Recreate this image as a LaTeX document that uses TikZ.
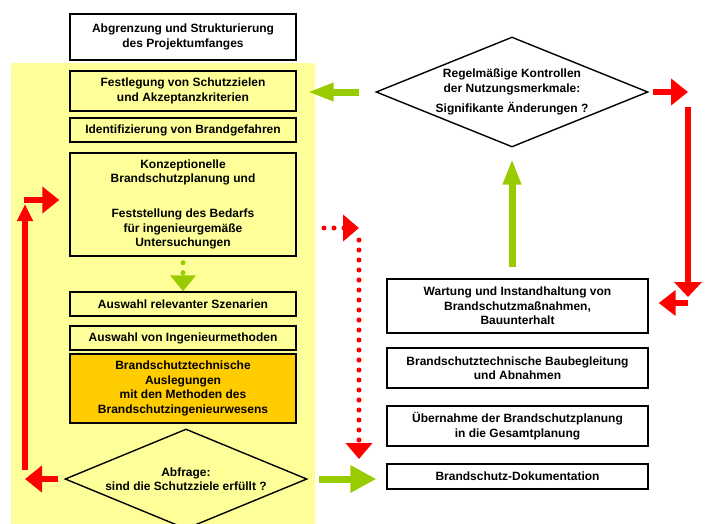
\documentclass[tikz,border=0pt]{standalone}
\usepackage{fontspec}
\setmainfont{Liberation Sans}
\usetikzlibrary{shapes.geometric,arrows.meta}
\definecolor{hellgelb}{HTML}{FFFF99}
\definecolor{orangegelb}{HTML}{FFCC00}
\definecolor{gruen}{HTML}{99CC00}
\definecolor{rot}{HTML}{FF0000}
\tikzset{
  kasten/.style={draw,line width=1.4pt,align=center,inner sep=1pt,
    font=\bfseries\fontsize{12}{14.5}\selectfont},
  linkskasten/.style={kasten,fill=hellgelb,minimum width=226pt},
  rechtskasten/.style={kasten,fill=white,minimum width=261pt},
  raute/.style={diamond,draw,line width=1.4pt,inner sep=0pt},
  rautetext/.style={align=center,font=\bfseries\fontsize{12}{14.5}\selectfont},
  rpfeil/.style={draw=rot,line width=6pt,-{Triangle[length=17pt,width=26pt]}},
  gpfeil/.style={draw=gruen,line width=7pt,-{Triangle[length=26pt,width=17pt]}},
  rpunkte/.style={draw=rot,line width=5pt,line cap=round,dash pattern=on 0pt off 10pt,
    -{Triangle[length=16pt,width=26pt]}},
  gpunkte/.style={draw=gruen,line width=5pt,line cap=round,dash pattern=on 0pt off 10pt,
    -{Triangle[length=16pt,width=25pt]}}
}
\begin{document}
\begin{tikzpicture}[x=1pt,y=-1pt]
\useasboundingbox (0,0) rectangle (712,523);
\fill[hellgelb,rounded corners=2pt](11,63) rectangle (315,530);

% linke Spalte
\node[kasten,fill=white,minimum width=226pt,minimum height=46pt] (abgrenzung) at (183,37)
  {Abgrenzung und Strukturierung\\des Projektumfanges};
\node[linkskasten,minimum height=40pt] (festlegung) at (183,91)
  {Festlegung von Schutzzielen\\und Akzeptanzkriterien};
\node[linkskasten,minimum height=24pt] (gefahren) at (183,130)
  {Identifizierung von Brandgefahren};
\node[linkskasten,minimum height=103pt] (konzept) at (183,204.5)
  {Konzeptionelle\\Brandschutzplanung und\\[20.5pt]Feststellung des Bedarfs\\f\"ur ingenieurgem\"a\ss e\\Untersuchungen};
\node[linkskasten,minimum height=24pt] (szenarien) at (183,304)
  {Auswahl relevanter Szenarien};
\node[linkskasten,minimum height=24pt] (methoden) at (183,338)
  {Auswahl von Ingenieurmethoden};
\node[linkskasten,fill=orangegelb,minimum height=69pt] (auslegungen) at (183,388.5)
  {Brandschutztechnische\\Auslegungen\\mit den Methoden des\\Brandschutzingenieurwesens};
\node[raute,minimum width=242pt,minimum height=100pt,
  label={[rautetext]center:{Abfrage:\\sind die Schutzziele erf\"ullt ?}}] (abfrage) at (186,479) {};

% rechte Spalte
\node[raute,fill=white,minimum width=272pt,minimum height=110pt,
  label={[rautetext]center:{Regelm\"a\ss ige Kontrollen\\der Nutzungsmerkmale:\\[6pt]Signifikante \"Anderungen ?}}] (kontrolle) at (512,92) {};
\node[rechtskasten,minimum height=54pt] (wartung) at (517.5,306)
  {Wartung und Instandhaltung von\\Brandschutzma\ss nahmen,\\Bauunterhalt};
\node[rechtskasten,minimum height=40pt] (baubegleitung) at (517.5,368)
  {Brandschutztechnische Baubegleitung\\und Abnahmen};
\node[rechtskasten,minimum height=40pt] (uebernahme) at (517.5,426)
  {\"Ubernahme der Brandschutzplanung\\in die Gesamtplanung};
\node[rechtskasten,minimum height=25pt] (doku) at (517.5,476.5)
  {Brandschutz-Dokumentation};

\coordinate (linksunten) at (25,470);
\coordinate (linksoben) at (25,204);
\coordinate (rueck) at (24,200);
\coordinate (rechtsoben) at (688,107);
\coordinate (rechtsunten) at (688,297);
\coordinate (rechtsecke) at (688,303);
\coordinate (punktstart) at (324,228);
\coordinate (punktecke) at (359,228);
\coordinate (punktoben) at (359,240);
\coordinate (punktunten) at (359,459);

% Pfeile
\draw[gpunkte,shorten <=6pt] (konzept.south) -- (szenarien.north);
\draw[rpfeil,-{Triangle[length=17pt,width=15pt]}] (linksunten) -- (linksoben);
\draw[rpfeil,shorten >=10pt] (rueck) -- (rueck -| konzept.west);
\draw[rpfeil,shorten <=6pt] (abfrage.west) -- (abfrage.west -| linksunten);
\draw[gpfeil,-{Triangle[length=26pt,width=26pt]},shorten <=11pt,shorten >=10pt]
  (abfrage.east) -- (abfrage.east -| doku.west);
\draw[rpunkte] (punktstart) -- (punktecke);
\draw[rpunkte] (punktoben) -- (punktunten);
\draw[gpfeil,shorten <=16pt,shorten >=11pt] (kontrolle.west) -- (kontrolle.west -| festlegung.east);
\draw[rpfeil,shorten <=4pt] (kontrolle.east) -- (kontrolle.east -| rechtsoben);
\draw[rpfeil,-{Triangle[length=15pt,width=27pt]}] (rechtsoben) -- (rechtsunten);
\draw[rpfeil,-{Triangle[length=17pt,width=25pt]},shorten >=10pt] (rechtsecke) -- (rechtsecke -| wartung.east);
\draw[gpfeil,shorten <=11pt,shorten >=11pt] (kontrolle.south |- wartung.north) -- (kontrolle.south);
\end{tikzpicture}
\end{document}
